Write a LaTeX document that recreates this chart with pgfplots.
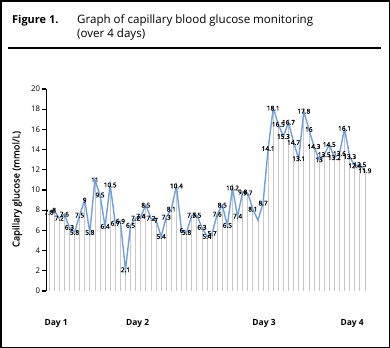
\documentclass[border=0pt]{standalone}
\usepackage{fontspec}
\setmainfont{Open Sans}
\newfontface\semib{Open Sans}[FakeBold=0.8]
\usepackage{pgfplots}
\pgfplotsset{compat=1.18}
\usepackage{pgfplotstable}
\definecolor{lineblue}{RGB}{110,160,220}
\definecolor{dropgray}{RGB}{200,200,200}

\pgfplotstableread{
x y lab
1 7.8 7.8
2 8 8
3 7.2 7.2
4 7.6 7.6
5 6.3 6.3
6 5.8 5.8
7 7.5 7.5
8 9 9
9 5.8 5.8
10 11 11
11 9.5 9.5
12 6.4 6.4
13 10.5 10.5
14 6.7 6.7
15 6.9 6.9
16 2.1 2.1
17 6.5 6.5
18 7.2 7.2
19 7.4 7.4
20 8.5 8.5
21 7.2 7.2
22 7 7
23 5.4 5.4
24 7.3 7.3
25 8.1 8.1
26 10.4 10.4
27 6 6
28 5.8 5.8
29 7.5 7.5
30 7.5 7.5
31 6.3 6.3
32 5.4 5.4
33 5.7 5.7
34 7.6 7.6
35 8.5 8.5
36 6.5 6.5
37 10.2 10.2
38 7.4 7.4
39 9.8 9.8
40 9.7 9.7
41 8.1 8.1
42 7.0 {}
43 8.7 8.7
44 14.1 14.1
45 18.1 18.1
46 16.5 16.5
47 15.3 15.3
48 16.7 16.7
49 14.7 14.7
50 13.1 13.1
51 17.8 17.8
52 16 16
53 14.3 14.3
54 13 13
55 13.5 13.5
56 14.5 14.5
57 13.2 13.2
58 13.6 13.6
59 16.1 16.1
60 13.3 13.3
61 12.4 12.4
62 12.5 12.5
63 11.9 11.9
}\glucose

\begin{document}
\begin{tikzpicture}
\useasboundingbox (0bp,0bp) rectangle (390bp,-348bp);
\draw[line width=1.5bp] (0.75bp,-0.75bp) rectangle (389.25bp,-347.25bp);
\node[anchor=base west, inner sep=0pt, font=\bfseries\fontsize{11}{13}\selectfont] at (12bp,-23bp) {Figure 1.};
\node[anchor=base west, inner sep=0pt, font=\fontsize{11.6}{13}\selectfont] at (77bp,-23bp) {Graph of capillary blood glucose monitoring};
\node[anchor=base west, inner sep=0pt, font=\fontsize{11.6}{13}\selectfont] at (77bp,-37bp) {(over 4 days)};
\draw[line width=1.5bp] (8bp,-48bp) -- (381bp,-48bp);
\node[rotate=90, inner sep=0pt, font=\semib\fontsize{9.5}{11}\selectfont] at (17bp,-189bp) {Capillary glucose (mmol/L)};
\begin{axis}[
  at={(46.5bp,-291bp)}, anchor=south west,
  scale only axis, width=321bp, height=202bp,
  xmin=0.5, xmax=63.5, ymin=0, ymax=20,
  axis x line=none,
  axis y line*=left,
  y axis line style={line width=1.8bp, black},
  ytick={0,2,...,20},
  ytick style={line width=1.2bp, black},
  tick align=outside,
  major tick length=4bp,
  yticklabel style={font=\fontsize{7.8}{9}\selectfont, xshift=1bp},
  /pgf/number format/assume math mode=true,
  clip=false,
]
\addplot[ycomb, draw=dropgray, line width=0.8bp, mark=none] table[x=x, y=y] {\glucose};
\addplot[draw=lineblue, line width=1.4bp, mark=none,
  nodes near coords, point meta=explicit symbolic,
  every node near coord/.append style={anchor=center, inner sep=0pt, text=black, font=\semib\fontsize{6.5}{7}\selectfont}]
  table[x=x, y=y, meta=lab] {\glucose};
\node[font=\bfseries\fontsize{8.5}{10}\selectfont] at (axis cs:2.4,0) [yshift=-32bp] {Day 1};
\node[font=\bfseries\fontsize{8.5}{10}\selectfont] at (axis cs:18.4,0) [yshift=-32bp] {Day 2};
\node[font=\bfseries\fontsize{8.5}{10}\selectfont] at (axis cs:43.2,0) [yshift=-32bp] {Day 3};
\node[font=\bfseries\fontsize{8.5}{10}\selectfont] at (axis cs:60.5,0) [yshift=-32bp] {Day 4};
\end{axis}
\end{tikzpicture}
\end{document}
